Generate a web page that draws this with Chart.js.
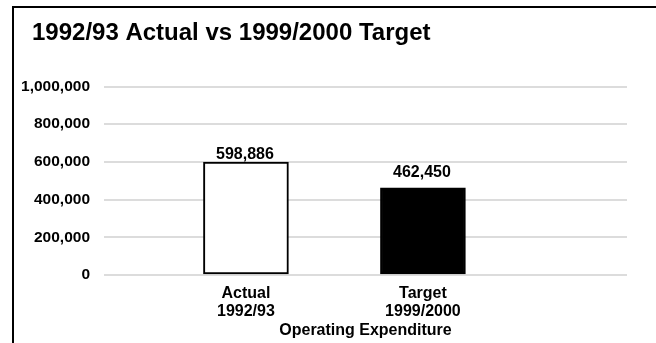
<!DOCTYPE html>
<html>
<head>
<meta charset="utf-8">
<script src="https://cdn.jsdelivr.net/npm/chart.js@4.4.1/dist/chart.umd.min.js"></script>
<style>
  html, body { margin: 0; padding: 0; background: #fff; }
  #wrap { position: relative; width: 656px; height: 343px; overflow: hidden; }
  #frame {
    position: absolute; left: 12px; top: 6px; width: 700px; height: 400px;
    border-left: 2px solid #000; border-top: 2px solid #000;
  }
  canvas { position: absolute; left: 0; top: 0; }
</style>
</head>
<body>
<div id="wrap">
  <div id="frame"></div>
  <canvas id="expChart" width="656" height="343"></canvas>
</div>
<script>
var chartTitle = '1992/93 Actual vs 1999/2000 Target';
var categories = [['Actual', '1992/93'], ['Target', '1999/2000']];
var spending = [598886, 462450];
var yTicks = [0, 200000, 400000, 600000, 800000, 1000000];

var barFill = ['#ffffff', '#000000'];
var labelGap = [3, 11];
var FONT = '"Liberation Sans", Arial, sans-serif';

function fmt(v) {
    return v.toLocaleString('en-US');
}

// heading drawn in the top band, left of the plot
var heading = {
    id: 'heading',
    afterDraw: function (chart) {
        var ctx = chart.ctx;
        ctx.save();
        ctx.font = 'bold 24px ' + FONT;
        ctx.fillStyle = '#000';
        ctx.textAlign = 'left';
        ctx.textBaseline = 'alphabetic';
        ctx.fillText(chartTitle, 32, 40);
        ctx.restore();
    }
};

// value labels above each bar
var valueLabels = {
    id: 'valueLabels',
    afterDatasetsDraw: function (chart) {
        var ctx = chart.ctx;
        var meta = chart.getDatasetMeta(0);
        ctx.save();
        ctx.font = 'bold 16px ' + FONT;
        ctx.fillStyle = '#000';
        ctx.textAlign = 'center';
        ctx.textBaseline = 'alphabetic';
        meta.data.forEach(function (bar, i) {
            ctx.fillText(fmt(spending[i]), bar.x - 1, bar.y - labelGap[i]);
        });
        ctx.restore();
    }
};

var ctx = document.getElementById('expChart').getContext('2d');
var expChart = new Chart(ctx, {
    type: 'bar',
    data: {
        datasets: [{
            data: spending.map(function (v, i) { return { x: i + 1, y: v }; }),
            backgroundColor: barFill,
            borderColor: '#000000',
            borderWidth: 2,
            borderSkipped: false,
            barThickness: 85
        }]
    },
    plugins: [valueLabels, heading],
    options: {
        responsive: false,
        animation: false,
        layout: { padding: { top: 86.5, left: 18, right: 29, bottom: 3 } },
        plugins: {
            legend: { display: false },
            tooltip: { enabled: false },
            title: { display: false }
        },
        scales: {
            x: {
                type: 'linear',
                offset: false,
                bounds: 'data',
                min: 0.198,
                max: 3.153,
                grid: { display: false, drawTicks: false },
                border: { display: false },
                afterBuildTicks: function (scale) {
                    scale.ticks = categories.map(function (c, i) { return { value: i + 1 }; });
                },
                afterFit: function (scale) { scale.height = 65; },
                ticks: {
                    color: '#000',
                    padding: 10,
                    maxRotation: 0,
                    autoSkip: false,
                    font: { family: FONT, size: 16, weight: 'bold', lineHeight: 1.125 },
                    callback: function (v) { return categories[v - 1]; }
                },
                title: {
                    display: true,
                    text: 'Operating Expenditure',
                    color: '#000',
                    font: { family: FONT, size: 16, weight: 'bold', lineHeight: 1.125 },
                    padding: { top: 2, bottom: 0 }
                }
            },
            y: {
                min: 0,
                max: 1000000,
                grid: { color: '#dcdcdc', lineWidth: 2, drawTicks: false },
                border: { display: false },
                afterFit: function (scale) { scale.width = 86; },
                ticks: {
                    stepSize: 100000,
                    color: '#000',
                    padding: 14,
                    font: { family: FONT, size: 15.5, weight: 'bold' },
                    callback: function (v) {
                        return yTicks.indexOf(v) >= 0 ? fmt(v) : '';
                    }
                }
            }
        }
    }
});
</script>
</body>
</html>
